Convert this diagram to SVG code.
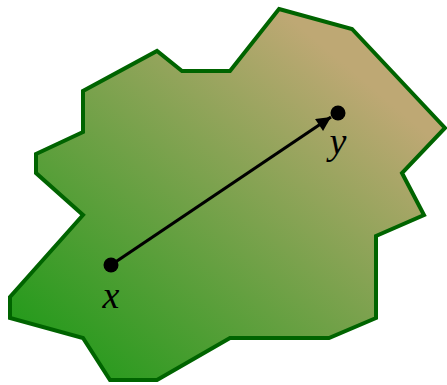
<svg xmlns="http://www.w3.org/2000/svg" width="447" height="385" viewBox="0 0 447 385">
<defs>
<linearGradient id="g" gradientUnits="userSpaceOnUse" x1="70" y1="380" x2="340" y2="60">
<stop offset="0" stop-color="#229a1a"/>
<stop offset="1" stop-color="#bea874"/>
</linearGradient>
<marker id="ah" viewBox="0 0 10 10" refX="10" refY="5" markerWidth="5" markerHeight="4.5" orient="auto" markerUnits="strokeWidth">
<path d="M0,0 L10,5 L0,10 Z" fill="#000"/>
</marker>
<style>
.lbl{font-family:"Liberation Serif",serif;font-style:italic;font-size:38px;fill:#000;text-anchor:middle}
</style>
</defs>
<g id="region">
<polygon points="279,9 352,29 445,128 402,173 424,215 376,236 376,318 329,338 230,338 157,380 110,380 83,338 10,318 10,297 83,215 36,173 36,154 83,132 83,91 157,51 182,71 230,71" fill="url(#g)" stroke="#006400" stroke-width="4" stroke-linejoin="miter"/>
</g>
<g id="connectors">
<line x1="111" y1="265" x2="331" y2="117" stroke="#000" stroke-width="3.2" marker-end="url(#ah)"/>
</g>
<g id="x">
<circle cx="111" cy="265" r="7.5" fill="#000"/>
<text class="lbl" x="111" y="308">x</text>
</g>
<g id="y">
<circle cx="338" cy="113" r="7.5" fill="#000"/>
<text class="lbl" x="338" y="154">y</text>
</g>
</svg>
